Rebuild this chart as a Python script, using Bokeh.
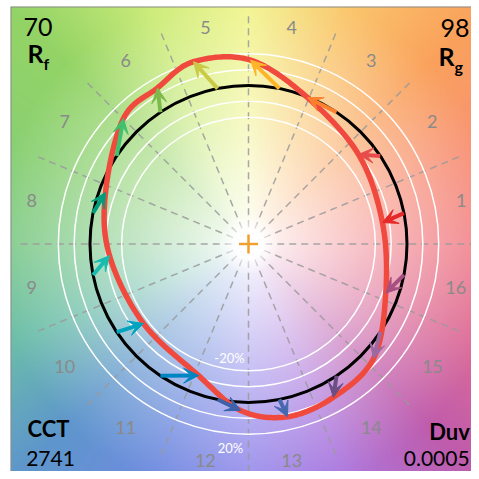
import numpy as np
from bokeh.plotting import figure
from bokeh.models import Arrow, VeeHead, Span, Range1d, Label
from bokeh.core.properties import value
from bokeh.embed import file_html
from bokeh.resources import INLINE

# ---------------- data ----------------
hue_bins = list(range(1, 17))
bin_labels = [str(b) for b in hue_bins]
# test-source chromaticity points per hue bin (normalised to reference circle radius 1)
test_x = [0.845, 0.694, 0.372, 0.013, -0.347, -0.574, -0.789, -0.902,
          -0.877, -0.662, -0.315, -0.050, 0.246, 0.536, 0.789, 0.866]
test_y = [0.135, 0.565, 0.924, 1.160, 1.150, 0.985, 0.792, 0.325,
          -0.073, -0.502, -0.830, -1.050, -1.090, -0.967, -0.722, -0.310]
bin_colors = ["#e62828", "#e74b4b", "#fb812e", "#ffb529", "#cbca46", "#7eb94c",
              "#41c06d", "#009c7c", "#16bcb0", "#00a4bf", "#0085c3", "#3b62aa",
              "#4568ae", "#6a4e85", "#9d69a1", "#a74f81"]
ring_radii = [0.8, 0.9, 1.1, 1.2]
ring_labels = ["-20%", "20%"]
rf_value = "70"
rg_value = "98"
cct_value = "2741"
duv_value = "0.0005"

# background hue anchors (angle in degrees, rgb)
bg_angles = [0, 22.5, 45, 67.5, 90, 112.5, 135, 157.5, 180, 202.5, 225, 247.5, 270, 292.5, 315, 337.5]
bg_rgb = [(242, 132, 140), (248, 145, 118), (250, 162, 92), (250, 200, 110),
          (242, 245, 142), (205, 236, 122), (148, 212, 102), (138, 208, 115),
          (132, 204, 142), (108, 190, 170), (94, 150, 204), (112, 140, 224),
          (150, 140, 236), (172, 120, 222), (192, 92, 172), (222, 108, 150)]

PX = 158.5          # pixels per unit
CXp, CYp = 248.0, 243.5
W = H = 471
X0, X1 = -(CXp - 10) / PX, (W - CXp) / PX
Y0, Y1 = -(H - CYp) / PX, (CYp - 6) / PX
FONT = "Lato"

p = figure(width=W, height=H, x_range=Range1d(X0, X1), y_range=Range1d(Y0, Y1),
           output_backend="svg", toolbar_location=None,
           x_axis_location=None, y_axis_location=None,
           min_border_left=10, min_border_right=0, min_border_top=6, min_border_bottom=0)
p.grid.visible = False
p.outline_line_color = None
p.background_fill_color = "white"
p.border_fill_color = "white"

# ---------------- background ----------------
N = 300
xs = np.linspace(X0, X1, N)
ys = np.linspace(Y0, Y1, N)
XX, YY = np.meshgrid(xs, ys)
RR = np.hypot(XX, YY)
AA = np.degrees(np.arctan2(YY, XX)) % 360
ang_ext = np.array(bg_angles + [360.0])
rgb_arr = np.array(bg_rgb + [bg_rgb[0]], dtype=float)
tt = np.clip(RR / 1.62, 0, 1) ** 0.9
img = np.empty((N, N), dtype=np.uint32)
view = img.view(dtype=np.uint8).reshape((N, N, 4))
for ch in range(3):
    c = np.interp(AA, ang_ext, rgb_arr[:, ch])
    view[:, :, ch] = np.clip(255 + tt * (c - 255), 0, 255).astype(np.uint8)
view[:, :, 3] = 255
p.image_rgba(image=[img], x=X0, y=Y0, dw=X1 - X0, dh=Y1 - Y0)

# radial dashed bin boundaries
bound = np.radians(np.arange(16) * 22.5)
p.segment(x0=0.03 * np.cos(bound), y0=0.03 * np.sin(bound),
          x1=1.45 * np.cos(bound), y1=1.45 * np.sin(bound),
          line_color="#9a9a9a", line_width=1.5, line_dash="7 5", line_alpha=0.85)

# white fade at centre
M = 120
cx = np.linspace(-0.25, 0.25, M)
CX, CY = np.meshgrid(cx, cx)
CR = np.hypot(CX, CY)
fade = np.empty((M, M), dtype=np.uint32)
fv = fade.view(dtype=np.uint8).reshape((M, M, 4))
fv[:, :, 0] = 255
fv[:, :, 1] = 255
fv[:, :, 2] = 255
fv[:, :, 3] = (255 * np.clip((0.2 - CR) / 0.14, 0, 1)).astype(np.uint8)
p.image_rgba(image=[fade], x=-0.25, y=-0.25, dw=0.5, dh=0.5)

# rings
p.circle(x=[0] * len(ring_radii), y=[0] * len(ring_radii), radius=ring_radii,
         fill_color=None, line_color="white", line_width=1.5)
p.circle(x=[0], y=[0], radius=[1.0], fill_color=None, line_color="black", line_width=3)

# smooth test curve (periodic Catmull-Rom through test points)
P = np.column_stack([test_x, test_y])
n = len(P)
tseg = np.linspace(0, 1, 24, endpoint=False)[:, None]
pts = []
for i in range(n):
    p0, p1, p2, p3 = P[i - 1], P[i], P[(i + 1) % n], P[(i + 2) % n]
    seg = 0.5 * (2 * p1 + (-p0 + p2) * tseg + (2 * p0 - 5 * p1 + 4 * p2 - p3) * tseg ** 2
                 + (-p0 + 3 * p1 - 3 * p2 + p3) * tseg ** 3)
    pts.append(seg)
pts.append(P[:1])
curve = np.vstack(pts)
p.line(curve[:, 0], curve[:, 1], line_color="#f04a3e", line_width=5.5, line_join="round")

# arrows from reference (bin centre on circle) to test point
centres = np.radians((np.array(hue_bins) - 0.5) * 22.5)
for i in range(n):
    c = bin_colors[i]
    p.add_layout(Arrow(end=VeeHead(size=15, fill_color=c, line_color=c, line_width=1),
                       x_start=float(np.cos(centres[i])), y_start=float(np.sin(centres[i])),
                       x_end=test_x[i], y_end=test_y[i],
                       line_color=c, line_width=4))

# centre cross
p.scatter(x=[0], y=[0], marker="cross", size=19, line_color="#f0a030", line_width=2.5)

# bin labels (kept inside the frame)
half_w = np.array([0.035 * len(s) + 0.03 for s in bin_labels])
lx = np.minimum(1.395 * np.cos(centres), X1 - half_w)
ly = 1.395 * np.sin(centres)
p.text(x=lx, y=ly, text=bin_labels,
       text_font=value(FONT), text_font_size="18px", text_color="#8a8a8a",
       text_align="center", text_baseline="middle")

# ring labels
p.text(x=[-0.12, -0.114], y=[-0.722, -1.29], text=ring_labels,
       text_font=value(FONT), text_font_size="13px", text_color="white",
       text_align="center", text_baseline="middle")

def lab(x, y, t, size, bold=False, align="left"):
    p.add_layout(Label(x=x, y=y, text=t, text_font=FONT, text_font_size=size,
                       text_font_style="bold" if bold else "normal", text_color="black",
                       text_align=align, text_baseline="middle"))

lab(-1.42, 1.372, rf_value, "25px")
lab(-1.394, 1.208, "R", "25px", True)
lab(-1.293, 1.14, "f", "16px", True)
lab(X1 - 0.012, 1.36, rg_value, "25px", False, "right")
lab(1.30, 1.122, "g", "16px", True, "left")
lab(1.30, 1.189, "R", "25px", True, "right")
lab(-1.262, -1.164, "CCT", "22px", True, "center")
lab(-1.249, -1.355, cct_value, "21px", False, "center")
lab(1.268, -1.183, "Duv", "22px", True, "center")
lab(X1 - 0.012, -1.355, duv_value, "21px", False, "right")

# frame edges (left, top)
p.add_layout(Span(location=X0, dimension="height", line_color="#8c8c8c", line_width=2))
p.add_layout(Span(location=Y1, dimension="width", line_color="#8c8c8c", line_width=2))

open("out.html", "w").write(file_html(p, INLINE))
